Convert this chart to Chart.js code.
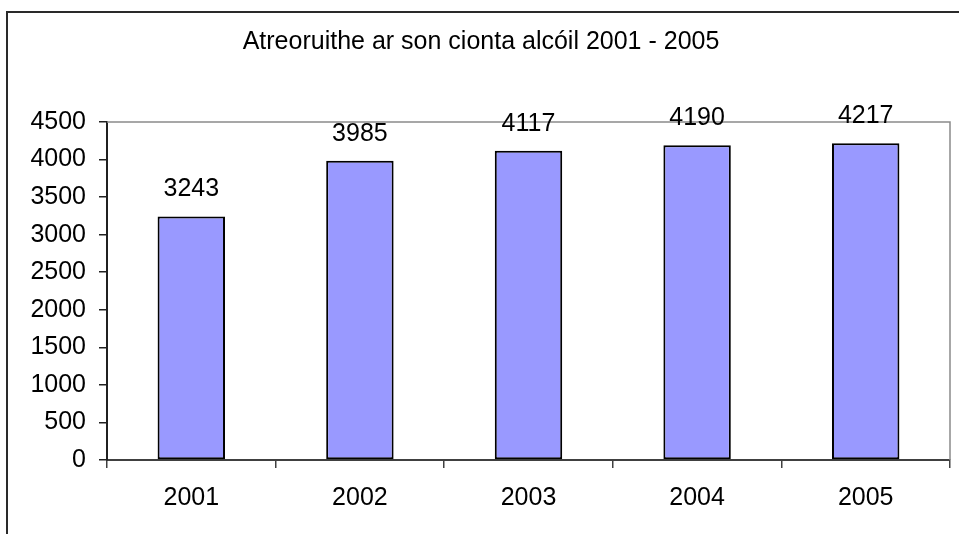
<!DOCTYPE html>
<html>
<head>
<meta charset="utf-8">
<script src="https://cdn.jsdelivr.net/npm/chart.js@4"></script>
<style>
html,body{margin:0;padding:0;background:#fff;overflow:hidden}
#wrap{position:relative;width:959px;height:534px}
</style>
</head>
<body>
<div id="wrap"><canvas id="c" width="959" height="534"></canvas></div>
<script>
const chartTitle = 'Atreoruithe ar son cionta alcóil 2001 - 2005';
const categories = ['2001', '2002', '2003', '2004', '2005'];
const values = [3243, 3985, 4117, 4190, 4217];
const yMin = 0, yMax = 4500, yStep = 500;

const FONT = '"Liberation Sans", Arial, sans-serif';

const framePlugin = {
  id: 'frame',
  beforeDraw(chart) {
    const ctx = chart.ctx;
    ctx.save();
    ctx.fillStyle = '#fff';
    ctx.fillRect(0, 0, chart.width, chart.height);
    ctx.strokeStyle = '#2a2a2a';
    ctx.lineWidth = 2;
    ctx.beginPath();
    ctx.moveTo(7, chart.height + 5);
    ctx.lineTo(7, 12);
    ctx.lineTo(chart.width + 5, 12);
    ctx.stroke();
    ctx.restore();
  },
  beforeDatasetsDraw(chart) {
    const a = chart.chartArea, ctx = chart.ctx;
    ctx.save();
    ctx.strokeStyle = '#8a8a8a';
    ctx.lineWidth = 1.5;
    ctx.beginPath();
    ctx.moveTo(a.left, a.top);
    ctx.lineTo(a.right, a.top);
    ctx.lineTo(a.right, a.bottom);
    ctx.stroke();
    ctx.restore();
  },
  afterDatasetsDraw(chart) {
    const ctx = chart.ctx;
    const meta = chart.getDatasetMeta(0);
    ctx.save();
    ctx.fillStyle = '#000';
    ctx.font = '25px ' + FONT;
    ctx.textAlign = 'center';
    ctx.textBaseline = 'alphabetic';
    meta.data.forEach((bar, i) => {
      ctx.fillText(String(chart.data.datasets[0].data[i]), bar.x, bar.y - 20);
    });
    ctx.restore();
  }
};

new Chart(document.getElementById('c'), {
  type: 'bar',
  data: {
    labels: categories,
    datasets: [{
      data: values,
      backgroundColor: '#9999FF',
      borderColor: '#000',
      borderWidth: 2,
      borderSkipped: false,
      categoryPercentage: 1,
      barPercentage: 0.4
    }]
  },
  options: {
    responsive: false,
    animation: false,
    devicePixelRatio: 1,
    layout: { padding: { left: 12, right: 9, top: 0, bottom: 0 } },
    plugins: {
      legend: { display: false },
      tooltip: { enabled: false },
      title: {
        display: true,
        text: chartTitle,
        color: '#000',
        font: { family: FONT, size: 25, weight: 'normal' },
        padding: { top: 27, bottom: 65 }
      }
    },
    scales: {
      x: {
        offset: true,
        grid: { offset: true, drawOnChartArea: false, drawTicks: true, tickLength: 8, color: '#404040', lineWidth: 1.5 },
        border: { color: '#404040', width: 2 },
        ticks: { color: '#000', font: { family: FONT, size: 25 }, padding: 15, maxRotation: 0 },
        afterFit(s) { s.height = 74; }
      },
      y: {
        min: yMin, max: yMax,
        grid: { drawOnChartArea: false, drawTicks: true, tickLength: 8, color: '#202020', lineWidth: 1.5 },
        border: { color: '#202020', width: 2 },
        ticks: { stepSize: yStep, color: '#000', font: { family: FONT, size: 25 }, padding: 13,
                 callback: (v) => String(v) },
        afterFit(s) { s.width = 95; }
      }
    }
  },
  plugins: [framePlugin]
});
</script>
</body>
</html>
